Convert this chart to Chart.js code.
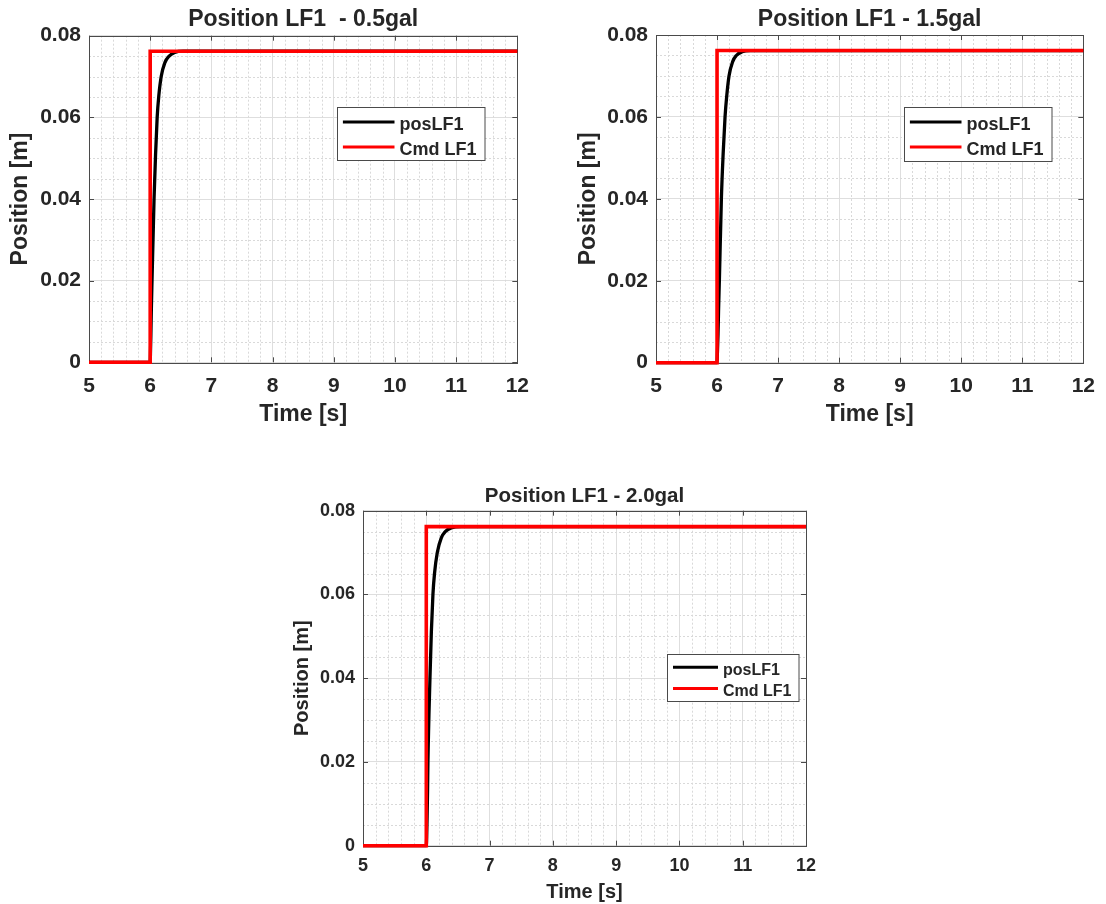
<!DOCTYPE html>
<html>
<head>
<meta charset="utf-8">
<script src="https://cdn.jsdelivr.net/npm/chart.js@4.4.1/dist/chart.umd.min.js"></script>
<style>
html,body{margin:0;padding:0;background:#ffffff;width:1106px;height:904px;overflow:hidden;}
canvas{position:absolute;display:block;}
</style>
</head>
<body>
<canvas id="c1" width="540" height="440" style="left:0px;top:0px;width:540px;height:440px"></canvas>
<canvas id="c2" width="546" height="440" style="left:560px;top:0px;width:546px;height:440px"></canvas>
<canvas id="c3" width="560" height="434" style="left:280px;top:470px;width:560px;height:434px"></canvas>
<script>
// ---- data ----
const chartTitles = ['Position LF1  - 0.5gal', 'Position LF1 - 1.5gal', 'Position LF1 - 2.0gal'];
const seriesNames = ['posLF1', 'Cmd LF1'];
const xAxisTitle = 'Time [s]';
const yAxisTitle = 'Position [m]';
const xTicks = [5, 6, 7, 8, 9, 10, 11, 12];
const yTicks = [0, 0.02, 0.04, 0.06, 0.08];

const cmdTime = [5, 6, 6, 12];
const cmdPos = [0, 0, 0.0762, 0.0762];

const posTime05 = [5, 6, 6.004, 6.011, 6.019, 6.03, 6.063, 6.088, 6.114, 6.141, 6.18, 6.24, 6.31, 6.40, 6.54, 12];
const posVal05  = [0, 0, 0.002, 0.0065, 0.013, 0.02, 0.04, 0.051, 0.06, 0.0653, 0.07, 0.0734, 0.075, 0.0759, 0.0762, 0.0762];

const posTime15 = [5, 6, 6.005, 6.016, 6.025, 6.038, 6.071, 6.1, 6.131, 6.158, 6.196, 6.256, 6.316, 6.41, 6.545, 12];
const posVal15  = [0, 0, 0.002, 0.007, 0.013, 0.02, 0.04, 0.051, 0.06, 0.065, 0.07, 0.0735, 0.075, 0.0759, 0.0762, 0.0762];

const posTime20 = [5, 6, 6.006, 6.013, 6.02, 6.026, 6.058, 6.08, 6.105, 6.13, 6.174, 6.237, 6.30, 6.395, 6.56, 12];
const posVal20  = [0, 0, 0.002, 0.007, 0.013, 0.02, 0.04, 0.051, 0.06, 0.065, 0.07, 0.0735, 0.075, 0.0759, 0.0762, 0.0762];

// ---- styling ----
const FONT = "'Liberation Sans', Arial, Helvetica, sans-serif";
const TEXT = '#262626';
const AXIS = '#4a4a4a';
const MAJOR_GRID = '#dedede';
const MINOR_GRID = '#d9d9d9';

const decorPlugin = {
  id: 'matlabDecor',
  beforeDatasetsDraw(chart) {
    const {ctx, chartArea: a, scales: {x, y}} = chart;
    ctx.save();
    // minor grid
    ctx.strokeStyle = MINOR_GRID;
    ctx.lineWidth = 1;
    ctx.setLineDash([2, 2]);
    ctx.beginPath();
    for (let i = 0; i < xTicks.length - 1; i++) {
      for (let k = 1; k < 5; k++) {
        const px = Math.round(x.getPixelForValue(xTicks[i] + (xTicks[i + 1] - xTicks[i]) * k / 5)) + 0.5;
        ctx.moveTo(px, a.top); ctx.lineTo(px, a.bottom);
      }
    }
    for (let i = 0; i < yTicks.length - 1; i++) {
      for (let k = 1; k < 4; k++) {
        const py = Math.round(y.getPixelForValue(yTicks[i] + (yTicks[i + 1] - yTicks[i]) * k / 4)) + 0.5;
        ctx.moveTo(a.left, py); ctx.lineTo(a.right, py);
      }
    }
    ctx.stroke();
    ctx.setLineDash([]);
    // box
    ctx.strokeStyle = AXIS;
    ctx.lineWidth = 1;
    ctx.strokeRect(Math.round(a.left) + 0.5, Math.round(a.top) + 0.5, Math.round(a.right - a.left), Math.round(a.bottom - a.top));
    // inward ticks
    const tl = 5;
    ctx.beginPath();
    xTicks.forEach(v => {
      const px = Math.round(x.getPixelForValue(v)) + 0.5;
      ctx.moveTo(px, a.bottom); ctx.lineTo(px, a.bottom - tl);
      ctx.moveTo(px, a.top); ctx.lineTo(px, a.top + tl);
    });
    yTicks.forEach(v => {
      const py = Math.round(y.getPixelForValue(v)) + 0.5;
      ctx.moveTo(a.left, py); ctx.lineTo(a.left + tl, py);
      ctx.moveTo(a.right, py); ctx.lineTo(a.right - tl, py);
    });
    ctx.stroke();
    ctx.restore();
  },
  afterDatasetsDraw(chart, args, opts) {
    const {ctx, chartArea: a} = chart;
    const L = opts;
    const bx = Math.round(a.left + L.dx) + 0.5, by = Math.round(a.top + L.dy) + 0.5;
    ctx.save();
    ctx.fillStyle = '#ffffff';
    ctx.fillRect(bx, by, L.w, L.h);
    ctx.strokeStyle = AXIS;
    ctx.lineWidth = 1;
    ctx.strokeRect(bx, by, L.w, L.h);
    ctx.font = 'bold ' + L.size + 'px ' + FONT;
    ctx.textBaseline = 'alphabetic';
    ctx.textAlign = 'left';
    chart.data.datasets.forEach((ds, i) => {
      const ly = by + L.rows[i];
      ctx.strokeStyle = ds.borderColor;
      ctx.lineWidth = 3;
      ctx.beginPath();
      ctx.moveTo(bx + L.x0, ly); ctx.lineTo(bx + L.x1, ly);
      ctx.stroke();
      ctx.fillStyle = TEXT;
      ctx.fillText(ds.label, bx + L.tx, ly + L.size * 0.46);
    });
    ctx.restore();
  }
};

function pts(xs, ys) { return xs.map((t, i) => ({x: t, y: ys[i]})); }

function makeChart(id, title, posT, posV, g) {
  const ctx = document.getElementById(id);
  return new Chart(ctx, {
    type: 'line',
    data: {
      datasets: [
        {label: seriesNames[0], data: pts(posT, posV), borderColor: '#000000', borderWidth: 3.3,
         pointRadius: 0, cubicInterpolationMode: 'monotone', order: 2, clip: 5},
        {label: seriesNames[1], data: pts(cmdTime, cmdPos), borderColor: '#ff0000', borderWidth: 3.6,
         pointRadius: 0, tension: 0, order: 1, clip: 5}
      ]
    },
    options: {
      responsive: false,
      animation: false,
      events: [],
      layout: {padding: {left: 0, right: g.padRight, top: 0, bottom: 0}},
      plugins: {
        legend: {display: false},
        tooltip: {enabled: false},
        title: {
          display: true, text: title, fullSize: false, align: 'center', color: TEXT,
          font: {family: FONT, size: g.titleSize, weight: 'bold', lineHeight: 1.2},
          padding: {top: g.titleTop, bottom: g.titleBottom}
        },
        matlabDecor: g.legend
      },
      scales: {
        x: {
          type: 'linear', min: xTicks[0], max: xTicks[xTicks.length - 1],
          afterBuildTicks: s => { s.ticks = xTicks.map(v => ({value: v})); },
          afterFit: s => { s.height = g.xAxisH; },
          ticks: {color: TEXT, padding: g.xTickPad, maxRotation: 0, autoSkip: false,
                  font: {family: FONT, size: g.tickSize, weight: 'bold'},
                  callback: v => String(v)},
          grid: {color: MAJOR_GRID, lineWidth: 1, drawTicks: false},
          border: {display: false},
          title: {display: true, text: xAxisTitle, color: TEXT,
                  font: {family: FONT, size: g.axisSize, weight: 'bold', lineHeight: 1.2},
                  padding: {top: 0, bottom: g.xTitlePad}}
        },
        y: {
          type: 'linear', min: yTicks[0], max: yTicks[yTicks.length - 1],
          afterBuildTicks: s => { s.ticks = yTicks.map(v => ({value: v})); },
          afterFit: s => { s.width = g.yAxisW; },
          ticks: {color: TEXT, padding: 8, autoSkip: false,
                  font: {family: FONT, size: g.tickSize, weight: 'bold'},
                  callback: v => (v === 0 ? '0' : v.toFixed(2))},
          grid: {color: MAJOR_GRID, lineWidth: 1, drawTicks: false},
          border: {display: false},
          title: {display: true, text: yAxisTitle, color: TEXT,
                  font: {family: FONT, size: g.axisSize, weight: 'bold', lineHeight: 1.2},
                  padding: {top: g.yTitlePad, bottom: 0}}
        }
      }
    },
    plugins: [decorPlugin]
  });
}

makeChart('c1', chartTitles[0], posTime05, posVal05, {
  padRight: 21, titleSize: 23, titleTop: 5.7, titleBottom: 2.4,
  xAxisH: 77.7, yAxisW: 89, tickSize: 21, axisSize: 23, xTickPad: 11, xTitlePad: 11.2, yTitlePad: 7.2,
  legend: {dx: 248.3, dy: 71.6, w: 147.5, h: 53, rows: [14.4, 39.4], x0: 5.4, x1: 57, tx: 62, size: 18}
});
makeChart('c2', chartTitles[1], posTime15, posVal15, {
  padRight: 22, titleSize: 23, titleTop: 5.7, titleBottom: 1.7,
  xAxisH: 77.3, yAxisW: 96, tickSize: 21, axisSize: 23, xTickPad: 11, xTitlePad: 11.2, yTitlePad: 15.2,
  legend: {dx: 247.6, dy: 71.7, w: 147.5, h: 54, rows: [14.4, 39.4], x0: 5.4, x1: 57, tx: 62, size: 18}
});
makeChart('c3', chartTitles[2], posTime20, posVal20, {
  padRight: 34, titleSize: 20.5, titleTop: 13.7, titleBottom: 2.4,
  xAxisH: 58.3, yAxisW: 83, tickSize: 18, axisSize: 20, xTickPad: 10, xTitlePad: 0, yTitlePad: 10.5,
  legend: {dx: 303.5, dy: 143.3, w: 131.5, h: 47, rows: [12.7, 34], x0: 5.5, x1: 50.5, tx: 55.5, size: 16}
});
</script>
</body>
</html>
